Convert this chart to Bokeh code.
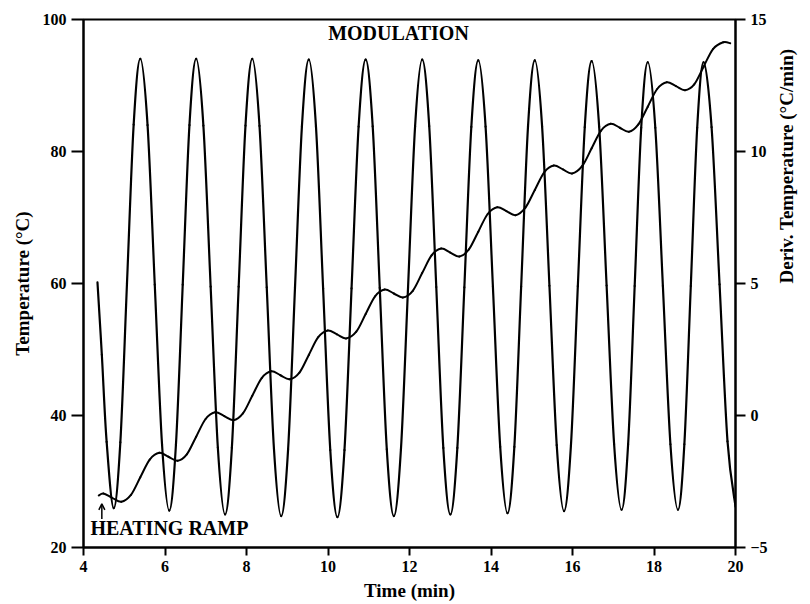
import math
from bokeh.plotting import figure
from bokeh.models import Range1d, LinearAxis, Label, Arrow, OpenHead, FixedTicker
from bokeh.embed import file_html
from bokeh.resources import INLINE

# ---------------- data ----------------
time_ticks = [4, 6, 8, 10, 12, 14, 16, 18, 20]
temp_ticks = [20, 40, 60, 80, 100]
deriv_ticks = [-5, 0, 5, 10, 15]

# modulation: derivative of temperature (right axis, degC/min)
mod_time = [4.343, 4.45, 4.568, 4.741,
            4.904, 5.067, 5.231, 5.394,
            5.572, 5.749, 5.927, 6.104,
            6.269, 6.435, 6.600, 6.765,
            6.942, 7.120, 7.297, 7.474,
            7.641, 7.808, 7.975, 8.142,
            8.319, 8.497, 8.674, 8.851,
            9.021, 9.190, 9.360, 9.529,
            9.705, 9.880, 10.056, 10.231,
            10.404, 10.578, 10.751, 10.924,
            11.097, 11.270, 11.443, 11.616,
            11.790, 11.964, 12.137, 12.311,
            12.484, 12.657, 12.830, 13.003,
            13.174, 13.346, 13.517, 13.688,
            13.867, 14.047, 14.226, 14.405,
            14.573, 14.740, 14.908, 15.075,
            15.254, 15.434, 15.613, 15.792,
            15.962, 16.131, 16.301, 16.470,
            16.654, 16.837, 17.021, 17.204,
            17.365, 17.526, 17.686, 17.847,
            18.032, 18.218, 18.403, 18.588,
            18.745, 18.903, 19.060, 19.217,
            19.413, 19.609, 19.804, 20.0]
mod_deriv = [5.04, 2.3, -1.0, -3.51,
             -1.02, 5.0, 11.02, 13.51,
             11.0, 4.955, -1.09, -3.60,
             -1.09, 4.955, 11.0, 13.51,
             10.98, 4.88, -1.22, -3.75,
             -1.22, 4.88, 10.98, 13.51,
             10.97, 4.85, -1.27, -3.81,
             -1.28, 4.835, 10.95, 13.48,
             10.94, 4.815, -1.31, -3.85,
             -1.31, 4.815, 10.94, 13.48,
             10.95, 4.835, -1.28, -3.81,
             -1.28, 4.835, 10.95, 13.48,
             10.96, 4.865, -1.23, -3.75,
             -1.23, 4.85, 10.93, 13.45,
             10.94, 4.875, -1.19, -3.70,
             -1.19, 4.875, 10.94, 13.45,
             10.95, 4.915, -1.12, -3.62,
             -1.12, 4.9, 10.92, 13.42,
             10.94, 4.925, -1.08, -3.57,
             -1.09, 4.905, 10.90, 13.38,
             10.90, 4.905, -1.09, -3.57,
             -1.09, 4.905, 10.90, 13.38,
             10.92, 4.965, -0.98, -3.45]

# heating ramp: temperature (left axis, degC)
ramp_time = [4.374, 4.489, 4.703, 4.93,
             5.164, 5.394, 5.625, 5.861, 6.085, 6.309,
             6.535, 6.765, 6.996, 7.232, 7.456, 7.680,
             7.912, 8.142, 8.373, 8.609, 8.833, 9.057,
             9.299, 9.529, 9.760, 9.996, 10.220, 10.444,
             10.694, 10.924, 11.155, 11.391, 11.615, 11.839,
             12.081, 12.311, 12.542, 12.778, 13.002, 13.226,
             13.458, 13.688, 13.919, 14.155, 14.379, 14.603,
             14.845, 15.075, 15.306, 15.542, 15.766, 15.990,
             16.240, 16.470, 16.701, 16.937, 17.161, 17.385,
             17.617, 17.847, 18.078, 18.314, 18.538, 18.762,
             18.987, 19.217, 19.448, 19.70, 19.87]
ramp_temp = [27.88, 28.17, 27.53, 26.93,
             27.96, 30.64, 33.32, 34.35, 33.75, 33.14,
             34.11, 36.79, 39.47, 40.50, 39.90, 39.29,
             40.31, 42.99, 45.67, 46.70, 46.10, 45.49,
             46.50, 49.18, 51.86, 52.89, 52.29, 51.68,
             52.70, 55.38, 58.06, 59.09, 58.49, 57.88,
             58.90, 61.58, 64.26, 65.29, 64.69, 64.08,
             65.17, 67.85, 70.53, 71.56, 70.96, 70.35,
             71.49, 74.17, 76.85, 77.88, 77.28, 76.67,
             77.81, 80.49, 83.17, 84.20, 83.60, 82.99,
             84.11, 86.79, 89.47, 90.50, 89.90, 89.29,
             90.17, 92.85, 95.53, 96.56, 96.40]

FONT = "Liberation Serif"


def smooth_segments(xs, ys):
    """Catmull-Rom -> cubic Bezier control points through the read points."""
    n = len(xs)
    seg = dict(x0=[], y0=[], x1=[], y1=[], cx0=[], cy0=[], cx1=[], cy1=[])
    for i in range(n - 1):
        a = max(i - 1, 0)
        d = min(i + 2, n - 1)
        seg["x0"].append(xs[i]); seg["y0"].append(ys[i])
        seg["x1"].append(xs[i + 1]); seg["y1"].append(ys[i + 1])
        seg["cx0"].append(xs[i] + (xs[i + 1] - xs[a]) / 6.0)
        seg["cy0"].append(ys[i] + (ys[i + 1] - ys[a]) / 6.0)
        seg["cx1"].append(xs[i + 1] - (xs[d] - xs[i]) / 6.0)
        seg["cy1"].append(ys[i + 1] - (ys[d] - ys[i]) / 6.0)
    return seg


p = figure(width=810, height=604,
           x_range=Range1d(4, 20), y_range=Range1d(20, 100),
           output_backend="svg", toolbar_location=None,
           min_border_left=83, min_border_right=73,
           min_border_top=19, min_border_bottom=57)
p.extra_y_ranges = {"deriv": Range1d(-5, 15)}

p.background_fill_color = "white"
p.border_fill_color = "white"
p.outline_line_color = "black"
p.outline_line_width = 2
p.xgrid.visible = False
p.ygrid.visible = False


def style_axis(ax, ticks, tick_out):
    ax.ticker = FixedTicker(ticks=ticks)
    ax.minor_tick_line_color = None
    ax.major_tick_out = tick_out
    ax.major_tick_in = 0
    ax.axis_line_color = "black"
    ax.axis_line_width = 2
    ax.major_tick_line_color = "black"
    ax.major_tick_line_width = 2
    ax.major_label_text_font = FONT
    ax.major_label_text_font_style = "bold"
    ax.major_label_text_font_size = "16px"
    ax.major_label_text_color = "black"
    ax.axis_label_text_font = FONT
    ax.axis_label_text_font_style = "bold"
    ax.axis_label_text_font_size = "19px"
    ax.axis_label_text_color = "black"


xax = p.xaxis[0]
style_axis(xax, time_ticks, 8)
xax.axis_label = "Time (min)"
xax.major_label_standoff = 5
xax.axis_label_standoff = 5

yax = p.yaxis[0]
style_axis(yax, temp_ticks, 12)
yax.axis_label = "Temperature (°C)"
yax.major_label_standoff = 5
yax.axis_label_standoff = 7

rax = LinearAxis(y_range_name="deriv")
style_axis(rax, deriv_ticks, 10)
rax.major_label_standoff = 5
rax.axis_label = "Deriv. Temperature (°C/min)"
rax.axis_label_standoff = 16
rax.axis_label_orientation = math.pi / 2  # read bottom-to-top as in the original
p.add_layout(rax, "right")

mod = smooth_segments(mod_time, mod_deriv)
p.bezier(x0=mod["x0"], y0=mod["y0"], x1=mod["x1"], y1=mod["y1"],
         cx0=mod["cx0"], cy0=mod["cy0"], cx1=mod["cx1"], cy1=mod["cy1"],
         line_color="black", line_width=2.2, line_cap="round",
         y_range_name="deriv")

ramp = smooth_segments(ramp_time, ramp_temp)
p.bezier(x0=ramp["x0"], y0=ramp["y0"], x1=ramp["x1"], y1=ramp["y1"],
         cx0=ramp["cx0"], cy0=ramp["cy0"], cx1=ramp["cx1"], cy1=ramp["cy1"],
         line_color="black", line_width=2.0, line_cap="round")

p.add_layout(Label(x=11.73, y=98.0, text="MODULATION", text_align="center",
                   text_baseline="middle", text_font=FONT, text_font_style="bold",
                   text_font_size="20px", text_color="black"))
p.add_layout(Label(x=4.17, y=22.9, text="HEATING RAMP", text_align="left",
                   text_baseline="middle", text_font=FONT, text_font_style="bold",
                   text_font_size="20px", text_color="black"))
p.add_layout(Arrow(x_start=4.45, y_start=24.3, x_end=4.45, y_end=26.6,
                   line_color="black", line_width=1.5,
                   end=OpenHead(size=6, line_color="black", line_width=1.5)))

open("out.html", "w").write(file_html(p, INLINE))
